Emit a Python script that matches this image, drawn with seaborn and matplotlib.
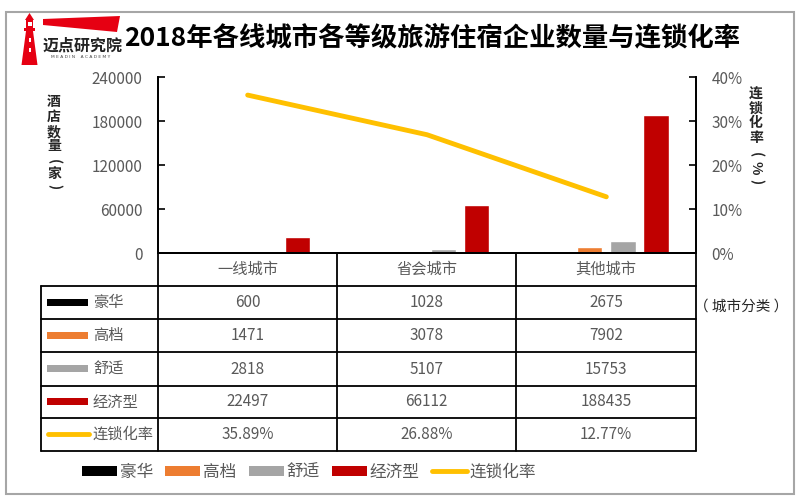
import matplotlib
matplotlib.use('Agg')
import matplotlib.pyplot as plt
import seaborn as sns
import pandas as pd
from matplotlib.patches import Rectangle, Polygon, Patch
from matplotlib.lines import Line2D

# ---------------- data ----------------
cities = ['一线城市', '省会城市', '其他城市']
grades = ['豪华', '高档', '舒适', '经济型']
luxury = [600, 1028, 2675]
upscale = [1471, 3078, 7902]
comfort = [2818, 5107, 15753]
economy = [22497, 66112, 188435]
chain_rate = [35.89, 26.88, 12.77]
rate_label = '连锁化率'
left_ticks = [0, 60000, 120000, 180000, 240000]
right_ticks = [0, 10, 20, 30, 40]
title = '2018年各线城市各等级旅游住宿企业数量与连锁化率'
ylabel_left = ['酒', '店', '数', '量', '(', '家', ')']
ylabel_right = ['连', '锁', '化', '率', '(', '%', ')']
xlabel_note = '（ 城市分类 ）'

colors = ['#000000', '#ED7D31', '#A5A5A5', '#C00000']
line_color = '#FFC000'
text_gray = '#595959'

sns.set_theme(style='white')
plt.rcParams['font.family'] = ['Noto Sans CJK SC', 'DejaVu Sans']

W, H = 800, 503
fig = plt.figure(figsize=(8, 5.03), dpi=100)


def fx(x):
    return x / W


def fy(y):
    return 1 - y / H


L, R, T, B = 158, 696, 77, 253
ax = fig.add_axes([fx(L), fy(B), (R - L) / W, (B - T) / H])

series = [luxury, upscale, comfort, economy]
rows = []
for g, vals in zip(grades, series):
    for c, v in zip(cities, vals):
        rows.append((c, g, v))
df = pd.DataFrame(rows, columns=['city', 'grade', 'count'])

sns.barplot(data=df, x='city', y='count', hue='grade', order=cities,
            hue_order=grades, palette=colors, width=0.74, gap=0.24,
            saturation=1, ax=ax, legend=False)
ax.set_xlim(-0.5, 2.5)
ax.set_ylim(0, 240000)
ax.set_yticks(left_ticks)
ax.set_yticklabels([str(t) for t in left_ticks])
ax.set_xticks([])
ax.set_xlabel('')
ax.set_ylabel('')
ax.tick_params(axis='y', direction='in', length=5, width=1.2, color='black',
               labelcolor=text_gray, labelsize=11, pad=11, left=True)
for s in ['left', 'right', 'bottom']:
    ax.spines[s].set_visible(True)
    ax.spines[s].set_color('black')
    ax.spines[s].set_linewidth(1.3)
ax.spines['top'].set_visible(False)

ax2 = ax.twinx()
sns.lineplot(x=[0, 1, 2], y=chain_rate, ax=ax2, color=line_color, lw=3.5)
ax2.set_ylim(0, 40)
ax2.set_xlim(-0.5, 2.5)
ax2.set_yticks(right_ticks)
ax2.set_yticklabels([f'{t}%' for t in right_ticks])
ax2.set_ylabel('')
ax2.tick_params(axis='y', direction='in', length=5, width=1.2, color='black',
                labelcolor=text_gray, labelsize=11, pad=11, right=True)
for s in ['left', 'right', 'bottom']:
    ax2.spines[s].set_color('black')
    ax2.spines[s].set_linewidth(1.3)
ax2.spines['top'].set_visible(False)

# ---------------- overlay for table, labels, logo ----------------
ov = fig.add_axes([0, 0, 1, 1], zorder=10)
ov.set_xlim(0, W)
ov.set_ylim(H, 0)
ov.axis('off')
ov.patch.set_alpha(0)

# outer frame
ov.add_patch(Rectangle((6, 12), 788, 482, fill=False, edgecolor='#A6A6A6', lw=1.5))

# table
cols = [41, 158, 337, 516, 696]
rys = [253, 286, 319, 352, 386, 418, 451]
lc = '#000000'
lw = 1.3
for x in cols[1:]:
    ov.plot([x, x], [rys[0], rys[1]], color=lc, lw=lw)
for x in cols:
    ov.plot([x, x], [rys[1], rys[-1]], color=lc, lw=lw)
ov.plot([cols[1], cols[-1]], [rys[0], rys[0]], color=lc, lw=lw)
for y in rys[1:]:
    ov.plot([cols[0], cols[-1]], [y, y], color=lc, lw=lw)

for i, c in enumerate(cities):
    cx = (cols[i + 1] + cols[i + 2]) / 2
    ov.text(cx, (rys[0] + rys[1]) / 2, c, ha='center', va='center',
            fontsize=11, color=text_gray)

row_labels = grades + [rate_label]
row_values = [[str(v) for v in s] for s in series] + [[f'{r:.2f}%' for r in chain_rate]]
for r, (lab, vals) in enumerate(zip(row_labels, row_values)):
    cy = (rys[r + 1] + rys[r + 2]) / 2
    if r < 4:
        ov.add_patch(Rectangle((47, cy - 4), 41, 7, color=colors[r], lw=0))
    else:
        ov.plot([48, 89], [cy - 1, cy - 1], color=line_color, lw=3.5,
                solid_capstyle='round')
    ov.text(93, cy, lab, ha='left', va='center', fontsize=11, color=text_gray)
    for i, v in enumerate(vals):
        cx = (cols[i + 1] + cols[i + 2]) / 2
        ov.text(cx, cy, v, ha='center', va='center', fontsize=11, color=text_gray)

ov.text(741, 307, xlabel_note, ha='center', va='center', fontsize=10.5, color='#262626')

# vertical axis titles
left_y = [102, 117, 132, 146, 162, 174, 187]
for ch, y in zip(ylabel_left, left_y):
    rot = 270 if ch in '()' else 0
    ov.text(54, y, ch, ha='center', va='center', fontsize=10, weight='bold',
            color='#262626', rotation=rot)
right_y = [95, 109, 123, 138, 155, 168, 182]
for ch, y in zip(ylabel_right, right_y):
    rot = 270 if ch in '()%' else 0
    ov.text(756, y, ch, ha='center', va='center', fontsize=10, weight='bold',
            color='#262626', rotation=rot)

# title
ov.text(432, 38, title, ha='center', va='center', fontsize=19, weight='bold',
        color='black')

# logo
red = '#E60012'
ov.add_patch(Polygon([(25, 20), (29.5, 13), (34, 20)], color=red, lw=0))
ov.add_patch(Rectangle((26, 20), 7, 8, color=red, lw=0))
ov.add_patch(Rectangle((27.5, 22), 4, 4, color='white', lw=0))
ov.add_patch(Rectangle((24, 28), 11, 3, color=red, lw=0))
ov.add_patch(Polygon([(26, 31), (33, 31), (37.5, 65), (21.5, 65)], color=red, lw=0))
ov.add_patch(Rectangle((28.5, 38), 2, 4, color='white', lw=0))
ov.add_patch(Rectangle((28.5, 48), 2, 4, color='white', lw=0))
ov.add_patch(Polygon([(43, 19), (120, 16), (117, 32), (43, 25)], color=red, lw=0))
ov.text(43, 46, '迈点研究院', ha='left', va='center', fontsize=11.5, weight='bold',
        color='#222222')
ov.text(81, 57, 'M E A D I N    A C A D E M Y', ha='center', va='center',
        fontsize=3.2, color='#444444', family='DejaVu Sans')

# bottom legend
handles = [Patch(facecolor=c, edgecolor='none') for c in colors]
handles.append(Line2D([0], [0], color=line_color, lw=3.5, solid_capstyle='round'))
fig.legend(handles, grades + [rate_label], loc='center',
           bbox_to_anchor=(fx(309), fy(472)), ncol=5, frameon=False,
           fontsize=12, handlelength=2.1, handleheight=0.55, handletextpad=0.15,
           columnspacing=0.75, labelcolor=text_gray, borderaxespad=0)

fig.savefig('out.png', dpi=100)
